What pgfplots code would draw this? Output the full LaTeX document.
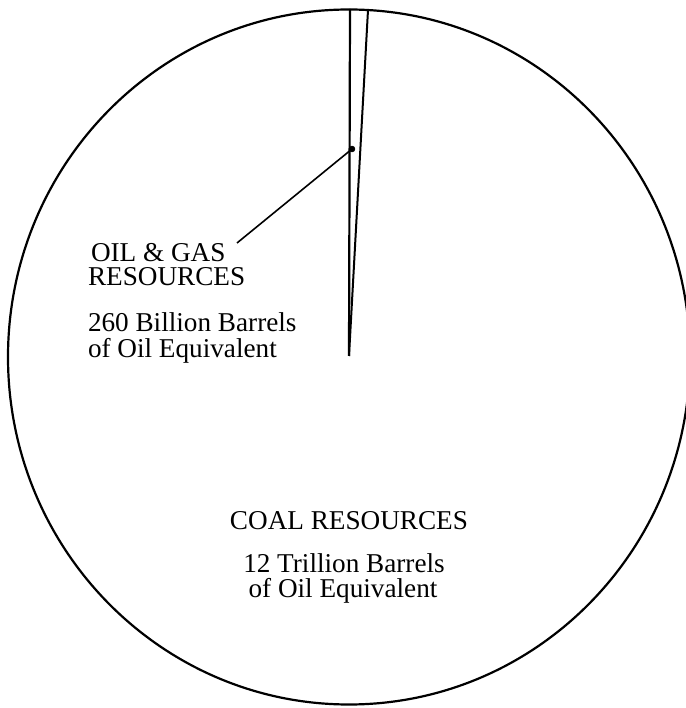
\documentclass[border=0pt]{standalone}
\usepackage{fontspec}
\setmainfont{Liberation Serif}
\usepackage{pgfplots}
\pgfplotsset{compat=1.18}
\tikzset{lbl/.style={font=\fontsize{13.6}{15}\selectfont, inner sep=0pt, outer sep=0pt}}
\begin{document}
\begin{tikzpicture}
\begin{axis}[
  hide axis,
  scale only axis,
  width=343pt, height=354pt,
  xmin=0, xmax=686, ymin=0, ymax=708,
  clip=true,
]
\coordinate (bl) at (rel axis cs:0,0);
\coordinate (tr) at (rel axis cs:1,1);
% pie outline
\draw[line width=1.1pt] (axis cs:349,351) ellipse [x radius=341, y radius=347.5];
% oil & gas wedge (drawn as in the original, not to scale)
\addplot[line width=1.1pt, no markers] coordinates {(349,352) (350,699)};
\addplot[line width=1pt, no markers] coordinates {(349,352) (368,698)};
% leader line
\addplot[line width=0.8pt, no markers] coordinates {(237,465) (352,559)};
\addplot[only marks, mark=*, mark size=1.4pt, black] coordinates {(352,559)};
% labels
\node[lbl, anchor=base west] at (axis cs:91,446) {OIL \& GAS};
\node[lbl, anchor=base west] at (axis cs:88,422) {RESOURCES};
\node[lbl, anchor=base west] at (axis cs:88,376) {260 Billion Barrels};
\node[lbl, anchor=base west] at (axis cs:88,350) {of Oil Equivalent};
\node[lbl, anchor=base] at (axis cs:349,178) {COAL RESOURCES};
\node[lbl, anchor=base] at (axis cs:344,135) {12 Trillion Barrels};
\node[lbl, anchor=base] at (axis cs:343,111) {of Oil Equivalent};
\end{axis}
\pgfresetboundingbox
\path[use as bounding box] (bl) rectangle (tr);
\end{tikzpicture}
\end{document}
